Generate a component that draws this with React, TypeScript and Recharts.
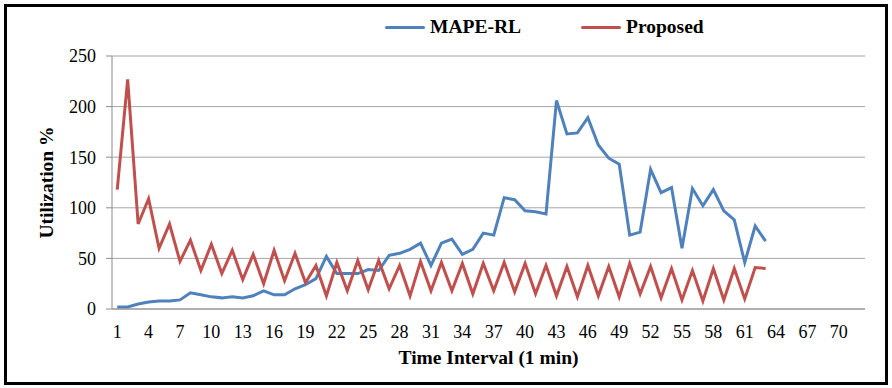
import { CartesianGrid, Label, Line, LineChart, XAxis, YAxis } from "recharts";

const intervals = [
  1, 2, 3, 4, 5, 6, 7, 8, 9, 10, 11, 12, 13, 14, 15, 16, 17, 18, 19, 20, 21,
  22, 23, 24, 25, 26, 27, 28, 29, 30, 31, 32, 33, 34, 35, 36, 37, 38, 39, 40,
  41, 42, 43, 44, 45, 46, 47, 48, 49, 50, 51, 52, 53, 54, 55, 56, 57, 58, 59,
  60, 61, 62, 63,
];

const mapeRl = [
  2, 2, 5, 7, 8, 8, 9, 16, 14, 12, 11, 12, 11, 13, 18, 14, 14, 20, 24, 30, 52,
  35, 35, 35, 39, 38, 53, 55, 59, 65, 43, 65, 69, 54, 59, 75, 73, 110, 108, 97,
  96, 94, 206, 173, 174, 189, 162, 149, 143, 73, 76, 138, 115, 120, 60, 119,
  102, 118, 97, 88, 46, 82, 67,
];

const proposed = [
  118, 227, 84, 109, 60, 84, 47, 68, 38, 64, 35, 58, 29, 54, 25, 58, 28, 55,
  26, 43, 13, 46, 18, 48, 19, 48, 20, 43, 13, 47, 18, 46, 18, 45, 15, 45, 18,
  46, 17, 45, 15, 43, 13, 42, 12, 43, 13, 42, 12, 45, 15, 42, 11, 40, 9, 38, 8,
  40, 9, 40, 10, 41, 40,
];

const xTickLabels = [1, 4, 7, 10, 13, 16, 19, 22, 25, 28, 31, 34, 37, 40, 43, 46, 49, 52, 55, 58, 61, 64, 67, 70];
const yTicks = [0, 50, 100, 150, 200, 250];
const categoryCount = 72;

const BLUE = "#4f81bd";
const RED = "#c0504d";
const FONT = "Liberation Serif";

const legendItems = [
  { key: "mape", name: "MAPE-RL", color: BLUE },
  { key: "proposed", name: "Proposed", color: RED },
];

const rows = intervals.map((t, i) => ({ t, mape: mapeRl[i], proposed: proposed[i] }));
// tick marks sit between categories, like an Excel category axis
const edgeTicks = Array.from({ length: categoryCount + 1 }, (_, i) => i + 0.5);

export default function App() {
  return (
    <div style={{ position: "absolute", left: 0, top: 0, width: 892, height: 388, background: "#fff", fontFamily: FONT }}>
      <div
        style={{
          position: "absolute",
          left: 4,
          top: 4,
          width: 884,
          height: 381,
          border: "3px solid #000",
          boxSizing: "border-box",
        }}
      />
      <div style={{ position: "absolute", left: 385, top: 16, display: "flex", alignItems: "center", gap: 60 }}>
        {legendItems.map((it) => (
          <div key={it.key} style={{ display: "flex", alignItems: "center" }}>
            <span style={{ display: "inline-block", width: 40, height: 3, background: it.color, borderRadius: 2 }} />
            <span style={{ marginLeft: 5, fontWeight: "bold", fontSize: 19.5, color: "#000", lineHeight: "22px", fontFamily: FONT }}>
              {it.name}
            </span>
          </div>
        ))}
      </div>
      <LineChart width={892} height={388} data={rows} margin={{ top: 56, right: 27, bottom: 18, left: 0 }} style={{ fontFamily: FONT }}>
        <CartesianGrid vertical={false} stroke="#a6a6a6" />
        <XAxis
          type="number"
          dataKey="t"
          domain={[0.5, categoryCount + 0.5]}
          ticks={edgeTicks}
          tick={false}
          tickSize={6}
          height={6}
          axisLine={{ stroke: "#8c8c8c" }}
          tickLine={{ stroke: "#8c8c8c" }}
        />
        <XAxis
          xAxisId="lbl"
          type="number"
          dataKey="t"
          domain={[0.5, categoryCount + 0.5]}
          ticks={xTickLabels}
          interval={0}
          height={55}
          axisLine={false}
          tickLine={false}
          tickSize={0}
          tickMargin={10}
          tick={{ fill: "#000", fontSize: 18, fontFamily: FONT }}
        >
          <Label
            content={({ viewBox }: any) => (
              <text
                x={viewBox.x + viewBox.width / 2}
                y={viewBox.y + 49}
                textAnchor="middle"
                fontFamily={FONT}
                fontWeight="bold"
                fontSize={19.5}
                fill="#000"
              >
                Time Interval (1 min)
              </text>
            )}
          />
        </XAxis>
        <YAxis
          width={112}
          domain={[0, 250]}
          ticks={yTicks}
          tickSize={6}
          tickMargin={10}
          axisLine={{ stroke: "#8c8c8c" }}
          tickLine={{ stroke: "#8c8c8c" }}
          tick={{ fill: "#000", fontSize: 18, fontFamily: FONT }}
        >
          <Label
            content={({ viewBox }: any) => {
              const cx = 46;
              const cy = viewBox.y + viewBox.height / 2;
              return (
                <text
                  x={cx}
                  y={cy}
                  transform={`rotate(-90 ${cx} ${cy})`}
                  textAnchor="middle"
                  dominantBaseline="central"
                  fontFamily={FONT}
                  fontWeight="bold"
                  fontSize={19.5}
                  fill="#000"
                >
                  Utilization %
                </text>
              );
            }}
          />
        </YAxis>
        <Line dataKey="mape" name="MAPE-RL" stroke={BLUE} strokeWidth={3} dot={false} isAnimationActive={false} />
        <Line dataKey="proposed" name="Proposed" stroke={RED} strokeWidth={3} dot={false} isAnimationActive={false} />
      </LineChart>
    </div>
  );
}
